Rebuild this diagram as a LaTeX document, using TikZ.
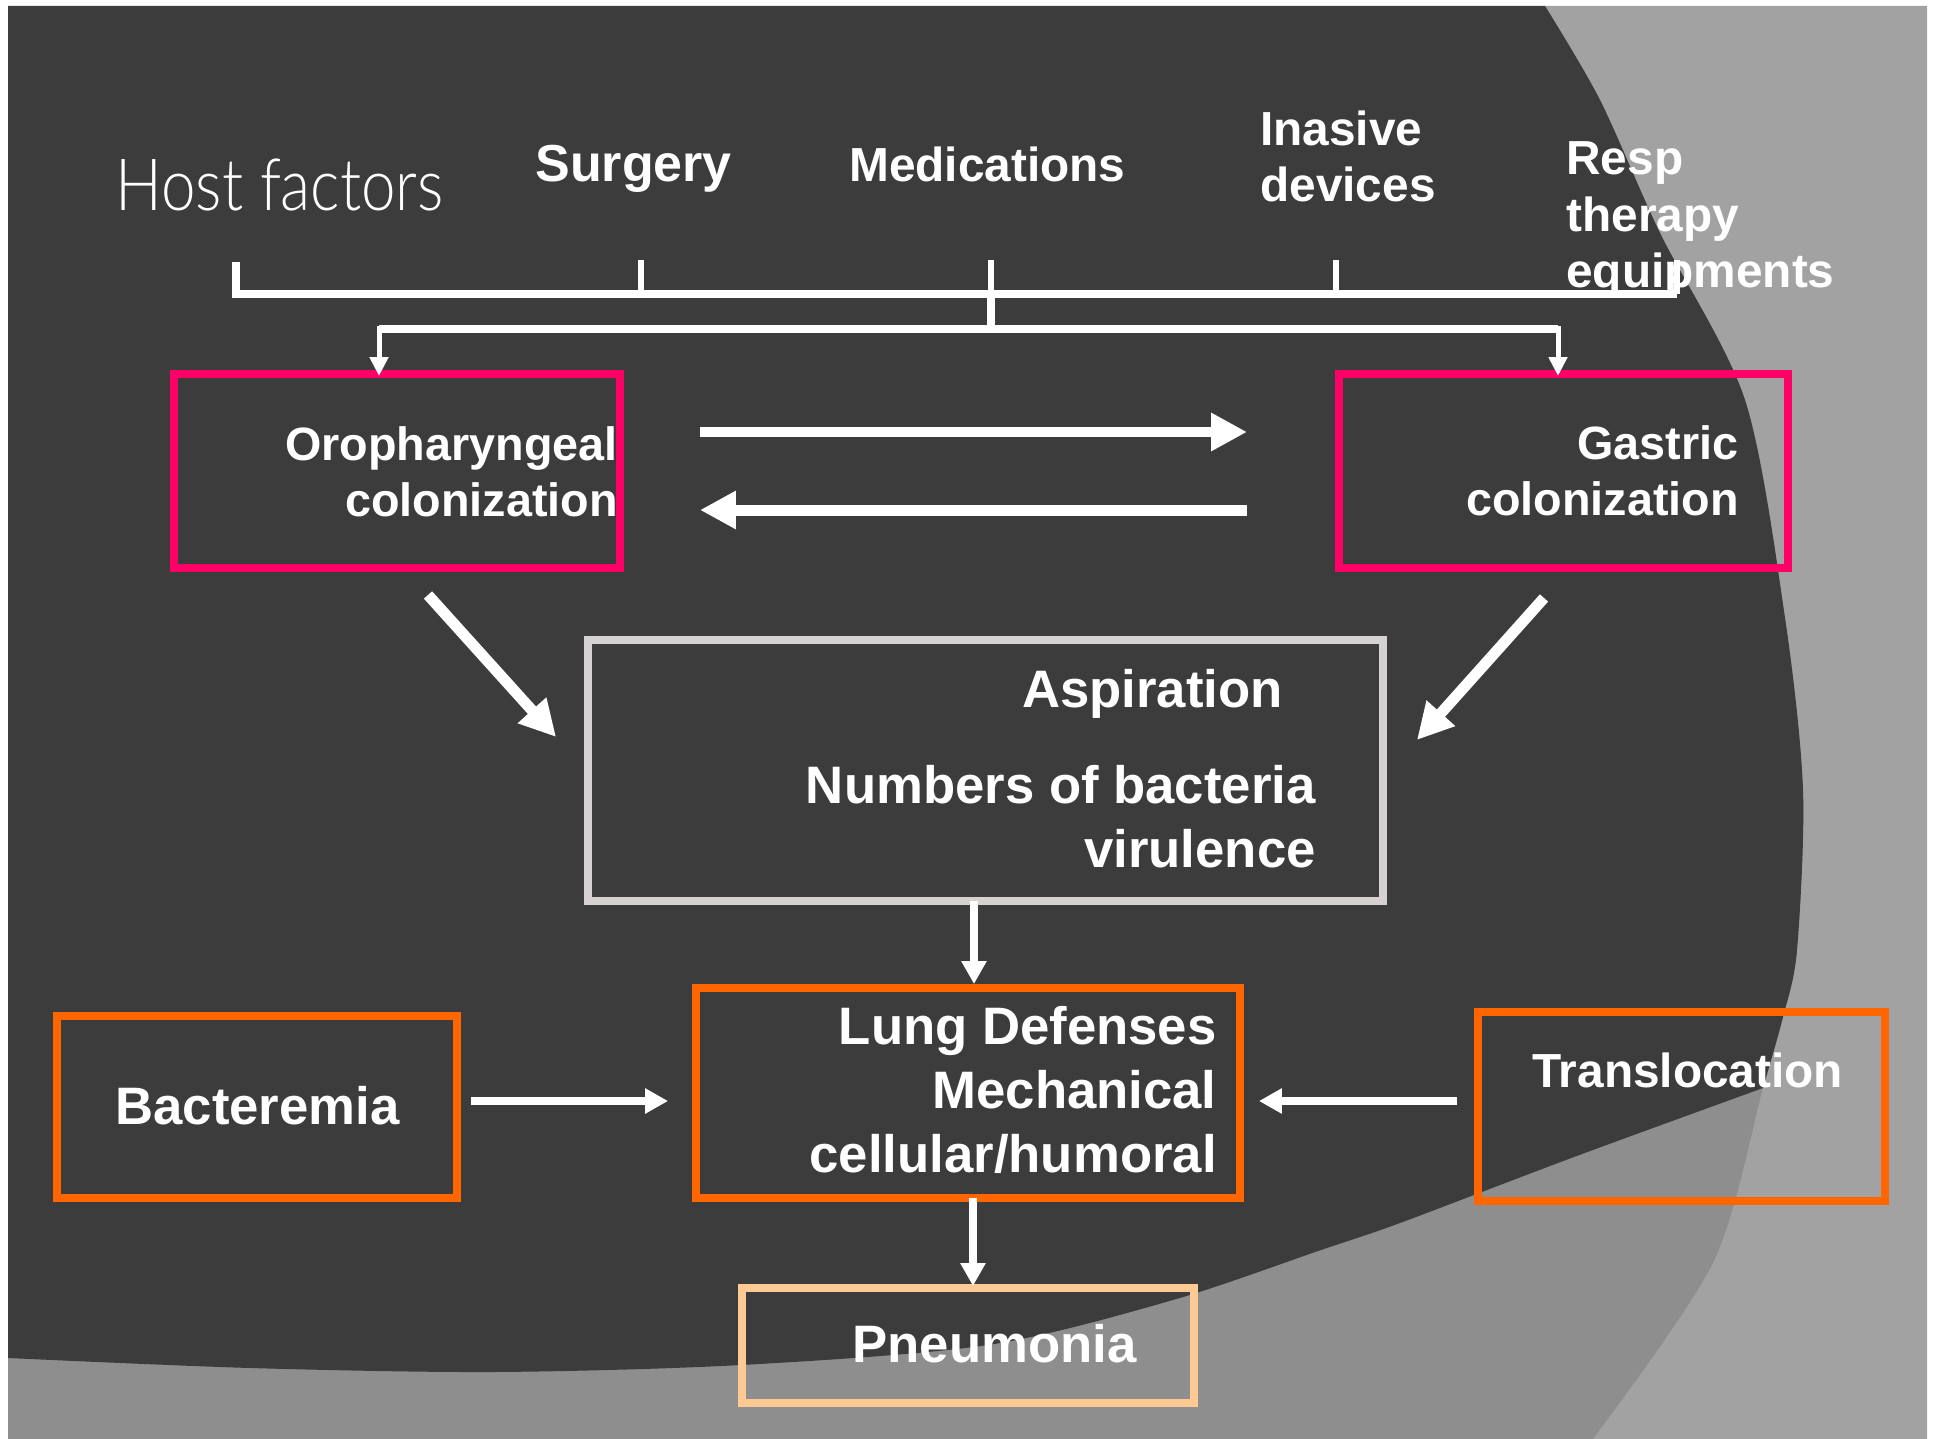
\documentclass[tikz,border=0pt]{standalone}
\usepackage{fontspec}
\setmainfont{Liberation Sans}
\newfontfamily\hostfont{Lato Light}[FakeStretch=0.86]
\usetikzlibrary{arrows.meta,calc}

\definecolor{slidedark}{HTML}{3C3C3C}
\definecolor{slidemid}{HTML}{8E8E8E}
\definecolor{slidelight}{HTML}{A2A2A2}
\definecolor{colpink}{HTML}{FF0066}
\definecolor{colorange}{HTML}{FF6600}
\definecolor{colsilver}{HTML}{D6D2D2}
\definecolor{colpeach}{HTML}{FFC993}

\begin{document}
\begin{tikzpicture}[x=0.02cm, y=-0.02cm,
  flowbox/.style={draw, line width=0.16cm, inner sep=0pt, outer sep=0pt},
  toplabel/.style={text=white, inner sep=0pt, align=left, font=\bfseries\fontsize{27.2}{32.3}\selectfont},
  colotext/.style={text=white, inner sep=0pt, align=right, font=\bfseries\fontsize{26.6}{31.7}\selectfont},
  bigtext/.style={text=white, inner sep=0pt, align=right, font=\bfseries\fontsize{30}{36.3}\selectfont},
  bracketline/.style={draw=white, line width=0.16cm},
  tickline/.style={draw=white, line width=0.12cm},
  bigarrow/.style={draw=white, line width=0.22cm, -{Triangle[length=0.72cm, width=0.72cm]}},
  midarrow/.style={draw=white, line width=0.15cm, -{Triangle[length=0.46cm, width=0.48cm]}},
  smallarrow/.style={draw=white, line width=0.1cm, -{Triangle[length=0.38cm, width=0.36cm]}}
]
\useasboundingbox (0,0) rectangle (1937,1439);

% slide background
\fill[white] (0,0) rectangle (1937,1439);
\fill[slidemid] (8,6) rectangle (1927,1439);
\fill[slidelight] plot[smooth] coordinates {(1545,6) (1600,100) (1660,233) (1745,400) (1785,618) (1803,790) (1797,950) (1783,1017) (1763,1088) (1713,1263) (1593,1439)}
  -- (1927,1439) -- (1927,6) -- cycle;
\fill[slidedark] (8,6) -- plot[smooth] coordinates {(1545,6) (1600,100) (1660,233) (1745,400) (1785,618) (1803,790) (1797,950) (1783,1017) (1763,1088)}
  -- plot[smooth] coordinates {(1763,1088) (1574,1157) (1400,1223) (1321,1250) (1173,1300) (988,1345) (741,1365) (494,1372) (250,1368) (8,1358)} -- cycle;

% risk factors on top (multi-line nodes sit on their last line)
\node[text=white, inner sep=0pt, font=\hostfont\fontsize{41}{48}\selectfont, anchor=base west] (host) at (115,211) {Host factors};
\node[toplabel, font=\bfseries\fontsize{29.6}{35}\selectfont, anchor=base west] (surg) at (535,182) {Surgery};
\node[toplabel, anchor=base west] (medic) at (849,182) {Medications};
\node[toplabel, anchor=base west] (invas) at (1260,202) {Inasive\\devices};
\node[toplabel, anchor=base west] (resp) at (1566,288) {Resp\\therapy\\equipments};

% colonization boxes
\node[flowbox, draw=colpink, minimum width=8.92cm, minimum height=3.88cm] (oro) at (397,471) {};
\node[flowbox, draw=colpink, minimum width=8.98cm, minimum height=3.88cm] (gas) at (1563.5,471) {};
\node[colotext, anchor=base east] (orotext) at (618,516) {Oropharyngeal\\colonization};
\node[colotext, anchor=base east] (gastext) at (1739,515) {Gastric\\colonization};

% aspiration and lung defenses
\node[flowbox, draw=colsilver, minimum width=15.9cm, minimum height=5.22cm] (asp) at (985.5,770.5) {};
\node[bigtext, anchor=base east] (asptext) at (1283,707) {Aspiration};
\node[bigtext, anchor=base east] (bactext) at (1316,867) {Numbers of bacteria\\virulence};
\node[flowbox, draw=colorange, minimum width=10.88cm, minimum height=4.2cm] (lung) at (968,1093) {};
\node[bigtext, anchor=base east] (lungtext) at (1217,1172) {Lung Defenses\\Mechanical\\cellular/humoral};

% side boxes and outcome
\node[flowbox, draw=colorange, minimum width=8cm, minimum height=3.64cm] (bacter) at (257,1107) {};
\node[bigtext, anchor=base west] (bactertext) at (115,1124) {Bacteremia};
\node[flowbox, draw=colorange, minimum width=8.14cm, minimum height=3.78cm] (transl) at (1681.5,1106.5) {};
\node[bigtext, font=\bfseries\fontsize{27.2}{33}\selectfont, anchor=base west] (transltext) at (1532,1087) {Translocation};
\node[flowbox, draw=colpeach, minimum width=9.04cm, minimum height=2.3cm] (pneu) at (968,1345.5) {};
\node[bigtext, anchor=base west] (pneutext) at (852,1362) {Pneumonia};

% bracket under the factors
\draw[bracketline] (236,262) -- (236,294) -- (1677,294);
\foreach \tx in {641,991,1336,1677}
  \draw[tickline] (\tx,260) -- (\tx,294);
\coordinate (hub) at (991,329);
\draw[bracketline] (991,294) -- (hub);
\draw[bracketline] (379,329) -- (1558,329);
\draw[smallarrow] (hub) -| ($(oro.north)+(-18,2)$);
\draw[smallarrow] (hub) -| ($(gas.north)+(-5.5,2)$);

% arrows between the boxes
\draw[bigarrow] ($(oro.east)+(80,-39)$) -- ($(gas.west)+(-92,-39)$);
\draw[bigarrow] ($(gas.west)+(-92,39)$) -- ($(oro.east)+(80,39)$);
\draw[bigarrow] ($(oro.south)+(31,27)$) -- ($(asp.west)+(-32,-33.5)$);
\draw[bigarrow] ($(gas.south)+(-19.5,30)$) -- ($(asp.east)+(34,-30.5)$);
\draw[midarrow] ($(asp.south)+(-11.5,0)$) -- ($(lung.north)+(6,-4)$);
\draw[midarrow] ($(bacter.east)+(14,-6)$) -- ($(lung.west)+(-28,8)$);
\draw[midarrow] ($(transl.west)+(-21,-5.5)$) -- ($(lung.east)+(19,8)$);
\draw[midarrow] ($(lung.south)+(5,0)$) -- ($(pneu.north)+(5,-2)$);
\end{tikzpicture}
\end{document}
